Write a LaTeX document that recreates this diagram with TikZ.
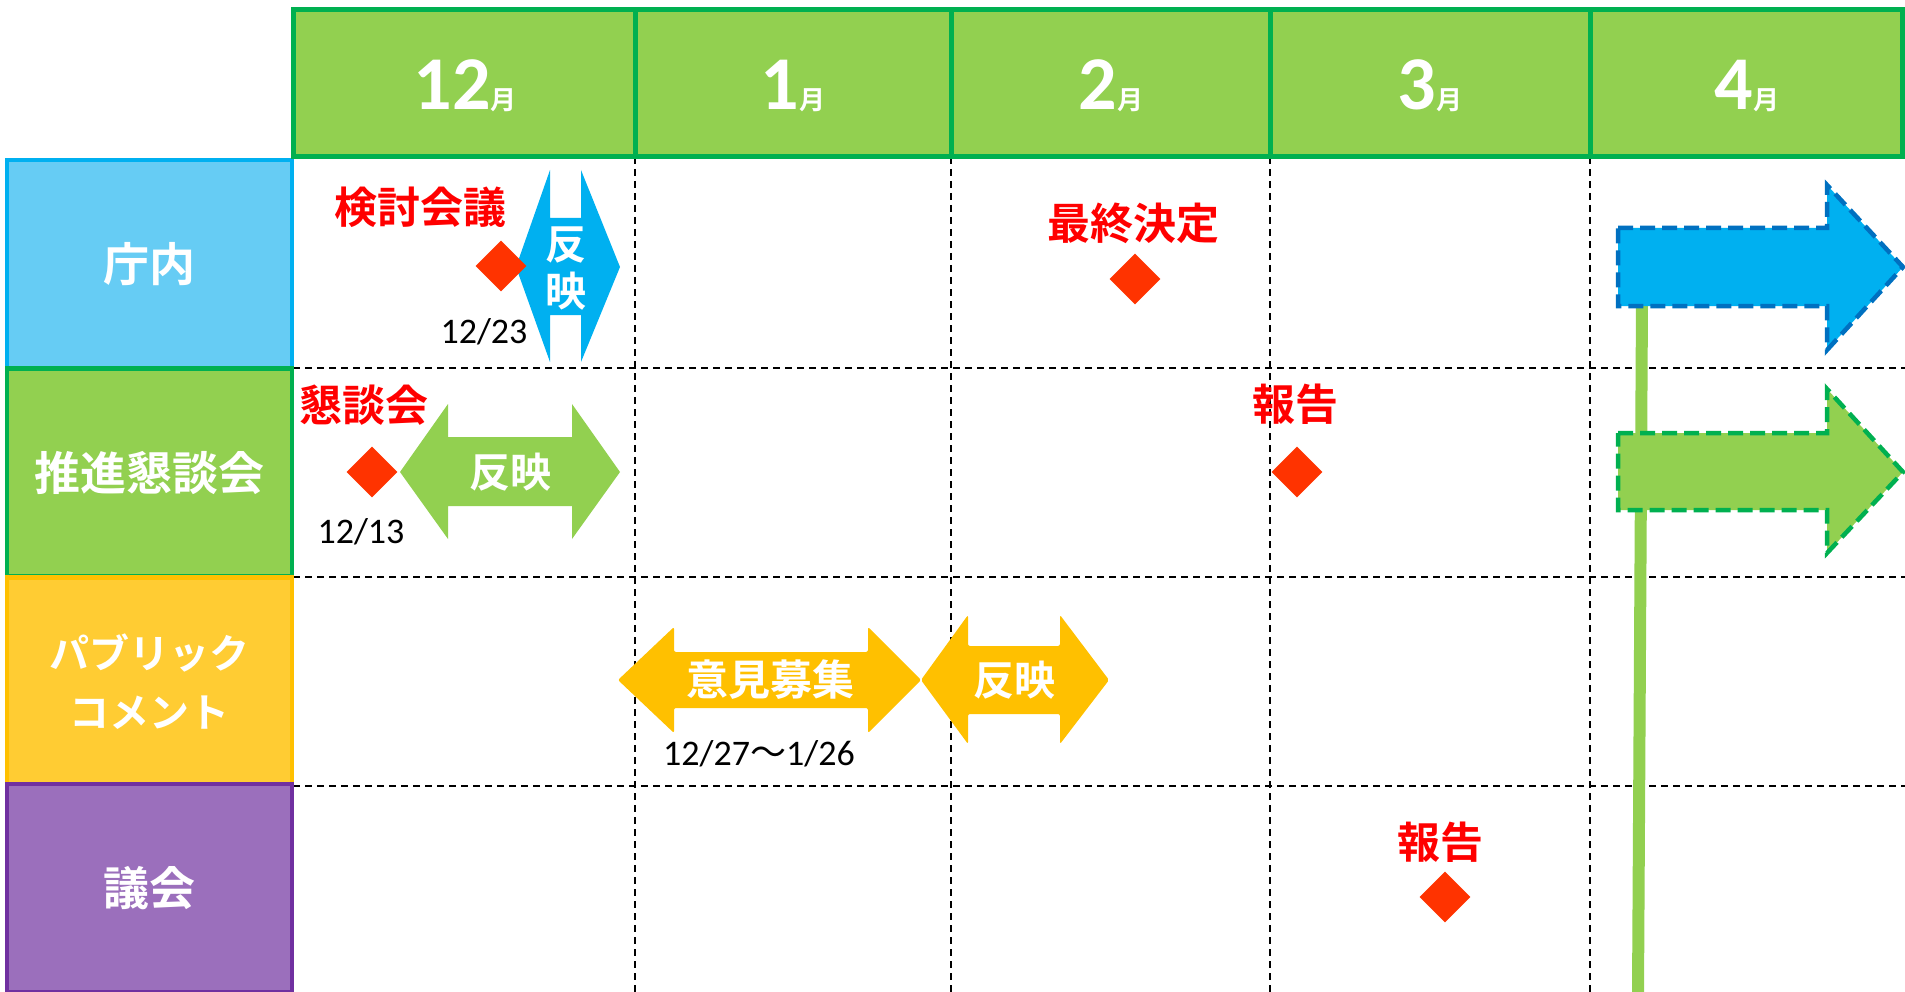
\documentclass[tikz,border=0pt]{standalone}
\usepackage{fontspec}
\setmainfont{Carlito}
\newfontfamily\cjk{Noto Sans CJK JP}[BoldFont=* Bold]
\usetikzlibrary{shapes.geometric}
\definecolor{hdrfill}{HTML}{92D050}
\definecolor{hdrline}{HTML}{00B050}
\definecolor{bluefill}{HTML}{00B0F0}
\definecolor{darkblue}{HTML}{0070C0}
\definecolor{lightblue}{HTML}{66CCF4}
\definecolor{gold}{HTML}{FFC000}
\definecolor{goldbox}{HTML}{FFCC33}
\definecolor{purplefill}{HTML}{9B6FBC}
\definecolor{purpleline}{HTML}{7030A0}
\definecolor{diamondred}{HTML}{FF3300}
\definecolor{labelred}{HTML}{FF0000}
\tikzset{
  redlbl/.style={text=labelred, font=\cjk\bfseries\fontsize{43}{50}\selectfont, inner sep=0pt},
  arrowtxt/.style={text=white, font=\cjk\bfseries\fontsize{41}{48}\selectfont, inner sep=0pt},
  datetxt/.style={text=black, font=\fontsize{36}{40}\selectfont, inner sep=0pt, anchor=base},
  milestone/.style={diamond, fill=diamondred, minimum width=51pt, minimum height=51pt, inner sep=0pt},
  rowbox/.style={rectangle, line width=4.5pt, minimum width=285pt, minimum height=208pt, inner sep=0pt,
     text=white, font=\cjk\bfseries\fontsize{46}{52}\selectfont, align=center},
  hdrcell/.style={rectangle, fill=hdrfill, draw=hdrline, line width=5pt, minimum height=147pt, inner sep=0pt},
  monthtxt/.style={text=white, font=\bfseries\fontsize{76}{80}\selectfont, inner sep=0pt, anchor=base},
  gridline/.style={black, line width=2pt, dash pattern=on 7pt off 5pt},
  flowarrow/.style={line width=4.5pt, dash pattern=on 15pt off 7pt, line join=miter},
}
\newcommand{\tsuki}{{\cjk\fontsize{26}{30}\selectfont 月}}
\begin{document}
\begin{tikzpicture}[x=1pt,y=-1pt]
\useasboundingbox (0,0) rectangle (1905,992);
% grid
\draw[gridline] (293,368) -- (1905,368);
\draw[gridline] (293,577) -- (1905,577);
\draw[gridline] (293,786) -- (1905,786);
\draw[gridline] (635,157) -- (635,992);
\draw[gridline] (951,157) -- (951,992);
\draw[gridline] (1270,157) -- (1270,992);
\draw[gridline] (1590,157) -- (1590,992);
% green vertical bar
\draw[hdrfill, line width=12pt] (1642,300) -- (1638,992);
% right arrows
\filldraw[flowarrow, fill=bluefill, draw=darkblue]
  (1618,228) -- (1827,228) -- (1827,185) -- (1903,267) -- (1827,350) -- (1827,306) -- (1618,306) -- cycle;
\filldraw[flowarrow, fill=hdrfill, draw=hdrline]
  (1618,433) -- (1827,433) -- (1827,389) -- (1903,472) -- (1827,553) -- (1827,510) -- (1618,510) -- cycle;
% blue vertical-ish arrow
\fill[bluefill] (516,267) -- (550,170) -- (550,218) -- (581,218) -- (581,170) -- (620,267)
  -- (581,362) -- (581,315) -- (550,315) -- (550,362) -- cycle;
% green double arrow
\fill[hdrfill] (400,472) -- (448,404) -- (448,437) -- (572,437) -- (572,404) -- (620,472)
  -- (572,539) -- (572,506) -- (448,506) -- (448,539) -- cycle;
% yellow arrows
\fill[gold, rounded corners=2pt] (618,680) -- (674,627) -- (674,652) -- (868,652) -- (868,627) -- (921,680)
  -- (868,733) -- (868,708) -- (674,708) -- (674,733) -- cycle;
\fill[gold, rounded corners=2pt] (921,680) -- (968,615) -- (968,646) -- (1060,646) -- (1060,615) -- (1109,680)
  -- (1060,744) -- (1060,714) -- (968,714) -- (968,744) -- cycle;
% milestones
\node[milestone] (m1) at (501,266) {};
\node[milestone] (m2) at (372,472) {};
\node[milestone] (m3) at (1135,279) {};
\node[milestone] (m4) at (1297,472) {};
\node[milestone] (m5) at (1445,897) {};
% labels
\node[redlbl] (l1) at (420,207) {検討会議};
\node[redlbl] (l2) at (364,405) {懇談会};
\node[redlbl] (l3) at (1133,223) {最終決定};
\node[redlbl] (l4) at (1295,404) {報告};
\node[redlbl] (l5) at (1440,842) {報告};
\node[datetxt] (d1) at (484,343) {12/23};
\node[datetxt] (d2) at (361,543) {12/13};
\node[datetxt] (d3) at (759,765) {12/27{\cjk 〜}1/26};
\node[arrowtxt] (a1) at (566,245) {反};
\node[arrowtxt] (a2) at (566,291) {映};
\node[arrowtxt] (a3) at (510,472) {反映};
\node[arrowtxt, font=\cjk\bfseries\fontsize{42}{48}\selectfont] (a4) at (770,680) {意見募集};
\node[arrowtxt] (a5) at (1014,680) {反映};
% row labels
\node[rowbox, fill=lightblue, draw=bluefill] (r1) at (149.5,264) {庁内};
\node[rowbox, fill=hdrfill, draw=hdrline] (r2) at (149.5,472.5) {推進懇談会};
\node[rowbox, fill=goldbox, draw=gold, font=\cjk\bfseries\fontsize{40}{59}\selectfont] (r3) at (149.5,681.5) {パブリック\\コメント};
\node[rowbox, fill=purplefill, draw=purpleline] (r4) at (149.5,888) {議会};
% header
\node[hdrcell, minimum width=342pt] (h1) at (464,83.5) {};
\node[hdrcell, minimum width=316pt] (h2) at (793,83.5) {};
\node[hdrcell, minimum width=319pt] (h3) at (1110.5,83.5) {};
\node[hdrcell, minimum width=320pt] (h4) at (1430,83.5) {};
\node[hdrcell, minimum width=312pt] (h5) at (1746,83.5) {};
\node[monthtxt] (t1) at (465,110) {12\tsuki};
\node[monthtxt] (t2) at (793,110) {1\tsuki};
\node[monthtxt] (t3) at (1111,110) {2\tsuki};
\node[monthtxt] (t4) at (1430,110) {3\tsuki};
\node[monthtxt] (t5) at (1747,110) {4\tsuki};
\end{tikzpicture}
\end{document}
